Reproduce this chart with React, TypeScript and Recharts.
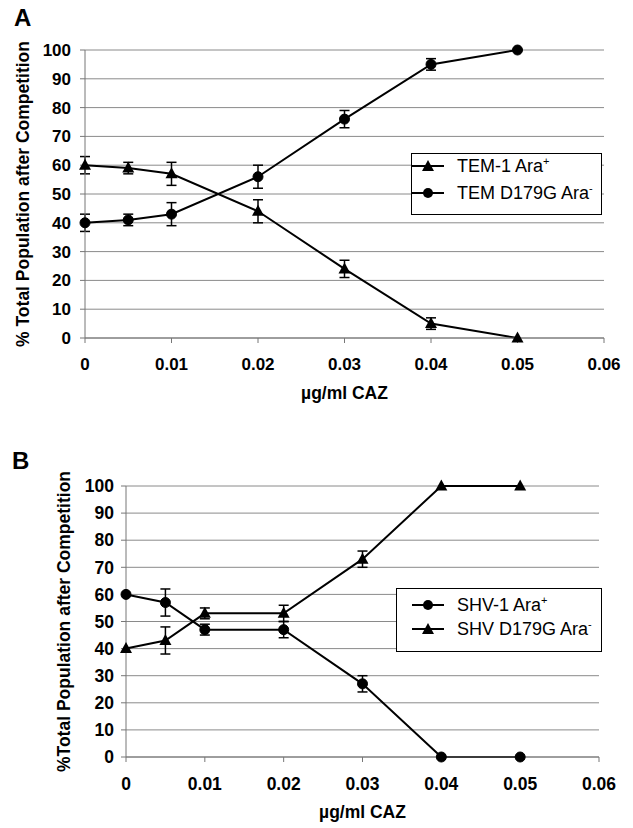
import React from "react";
import { CartesianGrid, ErrorBar, Legend, Line, LineChart, XAxis, YAxis } from "recharts";

const doses = [0, 0.005, 0.01, 0.02, 0.03, 0.04, 0.05];
const xTicks = [0, 0.01, 0.02, 0.03, 0.04, 0.05, 0.06];
const yTicks = [0, 10, 20, 30, 40, 50, 60, 70, 80, 90, 100];

// panel A: TEM competition
const tem1 = [60, 59, 57, 44, 24, 5, 0];
const tem1Err = [3, 2, 4, 4, 3, 2, 0];
const temD179G = [40, 41, 43, 56, 76, 95, 100];
const temD179GErr = [3, 2, 4, 4, 3, 2, 0];

// panel B: SHV competition
const shv1 = [60, 57, 47, 47, 27, 0, 0];
const shv1Err = [0, 5, 2, 3, 3, 0, 0];
const shvD179G = [40, 43, 53, 53, 73, 100, 100];
const shvD179GErr = [0, 5, 2, 3, 3, 0, 0];

const rowsA = doses.map((dose, i) => ({
  dose,
  tem1: tem1[i],
  tem1Err: tem1Err[i],
  temD: temD179G[i],
  temDErr: temD179GErr[i],
}));

const rowsB = doses.map((dose, i) => ({
  dose,
  shv1: shv1[i],
  shv1Err: shv1Err[i],
  shvD: shvD179G[i],
  shvDErr: shvD179GErr[i],
}));

const font = '"Liberation Sans", Arial, Helvetica, sans-serif';
const gridGray = "#8a8a8a";
const axisGray = "#777";

type Shape = "triangle" | "circle";
type Entry = { name: string; sup: string; shape: Shape };

const legendA: Entry[] = [
  { name: "TEM-1 Ara", sup: "+", shape: "triangle" },
  { name: "TEM D179G Ara", sup: "-", shape: "circle" },
];
const legendB: Entry[] = [
  { name: "SHV-1 Ara", sup: "+", shape: "circle" },
  { name: "SHV D179G Ara", sup: "-", shape: "triangle" },
];

function TriangleDot(props: any) {
  const { cx, cy } = props;
  if (cx == null || cy == null) return null;
  return <path d={`M${cx},${cy - 6.5}L${cx + 6},${cy + 4.5}L${cx - 6},${cy + 4.5}Z`} fill="#000" />;
}

const circleDot = { r: 5, fill: "#000", stroke: "#000", strokeWidth: 1 };

function Swatch({ shape }: { shape: Shape }) {
  return (
    <svg width={32} height={14} style={{ display: "block", flex: "none" }}>
      <line x1={0} y1={7} x2={32} y2={7} stroke="#000" strokeWidth={2} />
      {shape === "circle" ? (
        <circle cx={16} cy={7} r={5} fill="#000" />
      ) : (
        <path d="M16,1L22,12L10,12Z" fill="#000" />
      )}
    </svg>
  );
}

function LegendBox({ entries, padLeft, padTop, gap }: { entries: Entry[]; padLeft: number; padTop: number; gap: number }) {
  return (
    <div
      style={{
        boxSizing: "border-box",
        width: "100%",
        height: "100%",
        border: "1.5px solid #000",
        background: "#fff",
        paddingLeft: padLeft,
        paddingTop: padTop,
        fontFamily: font,
        fontSize: 18,
        color: "#000",
      }}
    >
      {entries.map((e, i) => (
        <div key={e.name} style={{ display: "flex", alignItems: "center", height: 24, marginTop: i === 0 ? 0 : gap }}>
          <Swatch shape={e.shape} />
          <span style={{ marginLeft: 13, whiteSpace: "nowrap", lineHeight: "24px" }}>
            {e.name}
            <sup style={{ fontSize: 11, verticalAlign: "top", lineHeight: "14px" }}>{e.sup}</sup>
          </span>
        </div>
      ))}
    </div>
  );
}

function yTitle(text: string, cx: number) {
  return (p: any) => {
    const vb = p.viewBox || {};
    const cy = (vb.y ?? 0) + (vb.height ?? 0) / 2;
    return (
      <text
        x={cx}
        y={cy}
        transform={`rotate(-90 ${cx} ${cy})`}
        textAnchor="middle"
        dominantBaseline="central"
        fontFamily={font}
        fontWeight="bold"
        fontSize={17.5}
        fill="#000"
      >
        {text}
      </text>
    );
  };
}

function xTitle(text: string) {
  return (p: any) => {
    const vb = p.viewBox || {};
    return (
      <text
        x={(vb.x ?? 0) + (vb.width ?? 0) / 2}
        y={(vb.y ?? 0) + 61}
        textAnchor="middle"
        fontFamily={font}
        fontWeight="bold"
        fontSize={17.5}
        fill="#000"
      >
        {text}
      </text>
    );
  };
}

const fmtDose = (v: number) => (v === 0 ? "0" : v.toFixed(2));

function PanelLetter({ letter, top, left }: { letter: string; top: number; left: number }) {
  return (
    <div
      style={{
        position: "absolute",
        top,
        left,
        fontFamily: font,
        fontWeight: "bold",
        fontSize: 24,
        lineHeight: "24px",
        color: "#000",
      }}
    >
      {letter}
    </div>
  );
}

export default function App() {
  const tickA = { fill: "#000", fontSize: 17, fontWeight: "bold", fontFamily: font };
  const tickB = { fill: "#000", fontSize: 17.5, fontWeight: "bold", fontFamily: font };

  return (
    <div style={{ position: "absolute", left: 0, top: 0, width: 633, height: 828, background: "#fff" }}>
      <PanelLetter letter="A" top={6} left={14} />
      <div style={{ position: "absolute", left: 0, top: 0 }}>
        <LineChart width={633} height={420} data={rowsA} margin={{ top: 50, right: 29, bottom: 22, left: 0 }}>
          <CartesianGrid stroke={gridGray} vertical={false} />
          <XAxis
            dataKey="dose"
            type="number"
            domain={[0, 0.06]}
            ticks={xTicks}
            interval={0}
            tickFormatter={fmtDose}
            tick={tickA}
            tickSize={5}
            tickMargin={15}
            height={60}
            stroke={axisGray}
            label={{ content: xTitle("µg/ml CAZ") }}
          />
          <YAxis
            type="number"
            domain={[0, 100]}
            ticks={yTicks}
            interval={0}
            tick={tickA}
            tickSize={5}
            tickMargin={9}
            width={85}
            stroke={axisGray}
            label={{ content: yTitle("% Total Population after Competition", 23) }}
          />
          <Legend
            layout="horizontal"
            verticalAlign="middle"
            align="center"
            wrapperStyle={{ left: 411, top: 153, width: 191, height: 62 }}
            content={() => <LegendBox entries={legendA} padLeft={0} padTop={0} gap={3} />}
          />
          <Line
            type="linear"
            dataKey="tem1"
            name="TEM-1 Ara+"
            stroke="#000"
            strokeWidth={2}
            dot={<TriangleDot />}
            activeDot={false}
            isAnimationActive={false}
          >
            <ErrorBar dataKey="tem1Err" direction="y" width={5} stroke="#000" strokeWidth={1.5} />
          </Line>
          <Line
            type="linear"
            dataKey="temD"
            name="TEM D179G Ara-"
            stroke="#000"
            strokeWidth={2}
            dot={circleDot}
            activeDot={false}
            isAnimationActive={false}
          >
            <ErrorBar dataKey="temDErr" direction="y" width={5} stroke="#000" strokeWidth={1.5} />
          </Line>
        </LineChart>
      </div>

      <PanelLetter letter="B" top={449} left={12} />
      <div style={{ position: "absolute", left: 0, top: 420 }}>
        <LineChart width={633} height={408} data={rowsB} margin={{ top: 66, right: 34, bottom: 11, left: 0 }}>
          <CartesianGrid stroke={gridGray} vertical={false} />
          <XAxis
            dataKey="dose"
            type="number"
            domain={[0, 0.06]}
            ticks={xTicks}
            interval={0}
            tickFormatter={fmtDose}
            tick={tickB}
            tickSize={5}
            tickMargin={16}
            height={60}
            stroke={axisGray}
            label={{ content: xTitle("µg/ml CAZ") }}
          />
          <YAxis
            type="number"
            domain={[0, 100]}
            ticks={yTicks}
            interval={0}
            tick={tickB}
            tickSize={5}
            tickMargin={7}
            width={126}
            stroke={axisGray}
            label={{ content: yTitle("%Total Population after Competition", 64) }}
          />
          <Legend
            layout="horizontal"
            verticalAlign="middle"
            align="center"
            wrapperStyle={{ left: 396, top: 168, width: 206, height: 64 }}
            content={() => <LegendBox entries={legendB} padLeft={15} padTop={4} gap={0} />}
          />
          <Line
            type="linear"
            dataKey="shv1"
            name="SHV-1 Ara+"
            stroke="#000"
            strokeWidth={2}
            dot={circleDot}
            activeDot={false}
            isAnimationActive={false}
          >
            <ErrorBar dataKey="shv1Err" direction="y" width={5} stroke="#000" strokeWidth={1.5} />
          </Line>
          <Line
            type="linear"
            dataKey="shvD"
            name="SHV D179G Ara-"
            stroke="#000"
            strokeWidth={2}
            dot={<TriangleDot />}
            activeDot={false}
            isAnimationActive={false}
          >
            <ErrorBar dataKey="shvDErr" direction="y" width={5} stroke="#000" strokeWidth={1.5} />
          </Line>
        </LineChart>
      </div>
    </div>
  );
}
